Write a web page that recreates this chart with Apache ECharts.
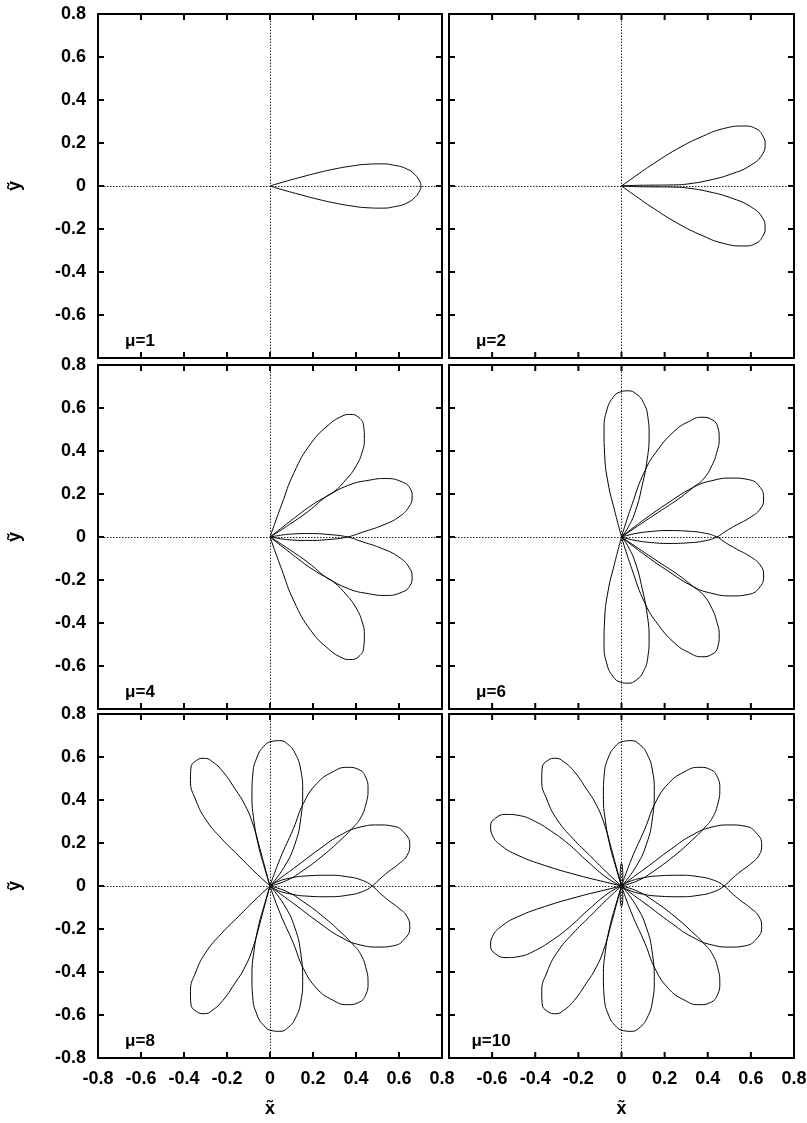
<!DOCTYPE html>
<html>
<head>
<meta charset="utf-8">
<script src="https://cdn.jsdelivr.net/npm/echarts@6/dist/echarts.min.js"></script>
<style>
  html, body { margin: 0; padding: 0; background: #fff; }
  #chart { width: 807px; height: 1123px; }
</style>
</head>
<body>
<div id="chart"></div>
<script>
// Axis ticks shared by every panel (x̃ and ỹ run over the same range)
const tickValues = [-0.8, -0.6, -0.4, -0.2, 0, 0.2, 0.4, 0.6, 0.8];

// Panel captions
const panelLabels = ['μ=1', 'μ=2', 'μ=4', 'μ=6', 'μ=8', 'μ=10'];

// ---- μ=1 : single loop along +x ----
const MU1_PETAL = [[0,0],[0.07,0.021],[0.14,0.040],[0.22,0.061],[0.30,0.079],[0.38,0.093],[0.45,0.101],[0.52,0.103],[0.58,0.096],[0.635,0.080],[0.675,0.052],[0.697,0.020],[0.702,0],[0.697,-0.020],[0.675,-0.052],[0.635,-0.080],[0.58,-0.096],[0.52,-0.103],[0.45,-0.101],[0.38,-0.093],[0.30,-0.079],[0.22,-0.061],[0.14,-0.040],[0.07,-0.021],[0,0]];

// ---- μ=2 : two loops ----
const MU2_UPPER = [[0,0],[0.066,0.047],[0.132,0.093],[0.256,0.171],[0.380,0.233],[0.473,0.267],[0.566,0.279],[0.628,0.264],[0.658,0.228],[0.666,0.195],[0.655,0.150],[0.600,0.097],[0.504,0.054],[0.411,0.028],[0.318,0.011],[0.24,0.005],[0.15,0.004],[0.07,0.003],[0,0]];
const MU2_LOWER = [[0,0],[0.066,-0.047],[0.132,-0.093],[0.256,-0.171],[0.380,-0.233],[0.473,-0.267],[0.566,-0.279],[0.628,-0.264],[0.658,-0.228],[0.666,-0.195],[0.655,-0.150],[0.600,-0.097],[0.504,-0.054],[0.411,-0.028],[0.318,-0.011],[0.24,-0.005],[0.15,-0.004],[0.07,-0.003],[0,0]];

// ---- μ=4 : four loops ----
const MU4_UP = [[0,0],[0.054,0.150],[0.112,0.300],[0.190,0.435],[0.276,0.524],[0.335,0.562],[0.370,0.570],[0.413,0.556],[0.436,0.512],[0.439,0.458],[0.429,0.396],[0.398,0.326],[0.351,0.264],[0.297,0.210],[0.258,0.186],[0.180,0.121],[0.102,0.066],[0.04,0.025],[0,0]];
const MU4_RIGHT_UP = [[0,0],[0.06,0.047],[0.118,0.092],[0.190,0.145],[0.258,0.186],[0.366,0.241],[0.460,0.264],[0.537,0.272],[0.615,0.256],[0.652,0.225],[0.661,0.186],[0.646,0.140],[0.599,0.093],[0.522,0.054],[0.429,0.022],[0.36,0],[0.28,-0.011],[0.18,-0.016],[0.09,-0.013],[0.03,-0.005],[0,0]];
const MU4_RIGHT_DOWN = [[0,0],[0.06,-0.047],[0.118,-0.092],[0.190,-0.145],[0.258,-0.186],[0.366,-0.241],[0.460,-0.264],[0.537,-0.272],[0.615,-0.256],[0.652,-0.225],[0.661,-0.186],[0.646,-0.140],[0.599,-0.093],[0.522,-0.054],[0.429,-0.022],[0.36,0],[0.28,0.011],[0.18,0.016],[0.09,0.013],[0.03,0.005],[0,0]];
const MU4_DOWN = [[0,0],[0.054,-0.150],[0.112,-0.300],[0.190,-0.435],[0.276,-0.524],[0.335,-0.562],[0.370,-0.570],[0.413,-0.556],[0.436,-0.512],[0.439,-0.458],[0.429,-0.396],[0.398,-0.326],[0.351,-0.264],[0.297,-0.210],[0.258,-0.186],[0.180,-0.121],[0.102,-0.066],[0.04,-0.025],[0,0]];

// ---- μ=6 : six loops ----
const MU6_VERT_UP = [[0,0],[-0.033,0.127],[-0.062,0.250],[-0.078,0.380],[-0.081,0.500],[-0.068,0.590],[-0.040,0.648],[-0.005,0.675],[0.030,0.680],[0.070,0.664],[0.102,0.625],[0.122,0.560],[0.128,0.470],[0.119,0.360],[0.096,0.240],[0.066,0.125],[0.031,0.045],[0,0]];
const MU6_UP_RIGHT = [[0,0],[0.047,0.146],[0.109,0.309],[0.171,0.409],[0.248,0.495],[0.310,0.536],[0.372,0.557],[0.419,0.546],[0.447,0.510],[0.453,0.456],[0.442,0.394],[0.419,0.332],[0.380,0.270],[0.333,0.231],[0.264,0.177],[0.171,0.115],[0.078,0.053],[0,0]];
const MU6_RIGHT_UP = [[0,0],[0.05,0.040],[0.109,0.084],[0.202,0.149],[0.333,0.231],[0.419,0.262],[0.512,0.274],[0.589,0.267],[0.643,0.231],[0.659,0.177],[0.643,0.130],[0.595,0.090],[0.535,0.057],[0.482,0.026],[0.442,0],[0.39,-0.017],[0.31,-0.027],[0.22,-0.030],[0.14,-0.026],[0.07,-0.017],[0.025,-0.007],[0,0]];
const MU6_RIGHT_DOWN = [[0,0],[0.05,-0.040],[0.109,-0.084],[0.202,-0.149],[0.333,-0.231],[0.419,-0.262],[0.512,-0.274],[0.589,-0.267],[0.643,-0.231],[0.659,-0.177],[0.643,-0.130],[0.595,-0.090],[0.535,-0.057],[0.482,-0.026],[0.442,0],[0.39,0.017],[0.31,0.027],[0.22,0.030],[0.14,0.026],[0.07,0.017],[0.025,0.007],[0,0]];
const MU6_DOWN_RIGHT = [[0,0],[0.047,-0.146],[0.109,-0.309],[0.171,-0.409],[0.248,-0.495],[0.310,-0.536],[0.372,-0.557],[0.419,-0.546],[0.447,-0.510],[0.453,-0.456],[0.442,-0.394],[0.419,-0.332],[0.380,-0.270],[0.333,-0.231],[0.264,-0.177],[0.171,-0.115],[0.078,-0.053],[0,0]];
const MU6_VERT_DOWN = [[0,0],[-0.033,-0.127],[-0.062,-0.250],[-0.078,-0.380],[-0.081,-0.500],[-0.068,-0.590],[-0.040,-0.648],[-0.005,-0.675],[0.030,-0.680],[0.070,-0.664],[0.102,-0.625],[0.122,-0.560],[0.128,-0.470],[0.119,-0.360],[0.096,-0.240],[0.066,-0.125],[0.031,-0.045],[0,0]];

// ---- μ=8 and μ=10 : loops common to both panels ----
const ROSE_VERT_UP = [[0,0],[-0.030,0.100],[-0.052,0.180],[-0.074,0.298],[-0.084,0.422],[-0.080,0.520],[-0.062,0.595],[-0.030,0.648],[0.010,0.673],[0.045,0.676],[0.082,0.660],[0.118,0.615],[0.144,0.535],[0.152,0.440],[0.144,0.320],[0.116,0.195],[0.064,0.085],[0,0]];
const ROSE_UP_RIGHT = [[0,0],[0.047,0.127],[0.109,0.267],[0.155,0.383],[0.217,0.476],[0.290,0.530],[0.360,0.552],[0.412,0.542],[0.445,0.506],[0.456,0.450],[0.446,0.380],[0.422,0.318],[0.388,0.274],[0.326,0.212],[0.248,0.143],[0.155,0.073],[0.078,0.026],[0,0]];
const ROSE_RIGHT_UP = [[0,0],[0.05,0.038],[0.109,0.081],[0.233,0.174],[0.326,0.236],[0.419,0.274],[0.505,0.284],[0.574,0.278],[0.626,0.246],[0.650,0.192],[0.638,0.143],[0.598,0.102],[0.550,0.066],[0.508,0.030],[0.476,0],[0.43,-0.026],[0.36,-0.043],[0.27,-0.050],[0.17,-0.047],[0.09,-0.036],[0.03,-0.018],[0,0]];
const ROSE_RIGHT_DOWN = [[0,0],[0.05,-0.038],[0.109,-0.081],[0.233,-0.174],[0.326,-0.236],[0.419,-0.274],[0.505,-0.284],[0.574,-0.278],[0.626,-0.246],[0.650,-0.192],[0.638,-0.143],[0.598,-0.102],[0.550,-0.066],[0.508,-0.030],[0.476,0],[0.43,0.026],[0.36,0.043],[0.27,0.050],[0.17,0.047],[0.09,0.036],[0.03,0.018],[0,0]];
const ROSE_DOWN_RIGHT = [[0,0],[0.047,-0.127],[0.109,-0.267],[0.155,-0.383],[0.217,-0.476],[0.290,-0.530],[0.360,-0.552],[0.412,-0.542],[0.445,-0.506],[0.456,-0.450],[0.446,-0.380],[0.422,-0.318],[0.388,-0.274],[0.326,-0.212],[0.248,-0.143],[0.155,-0.073],[0.078,-0.026],[0,0]];
const ROSE_VERT_DOWN = [[0,0],[-0.030,-0.100],[-0.052,-0.180],[-0.074,-0.298],[-0.084,-0.422],[-0.080,-0.520],[-0.062,-0.595],[-0.030,-0.648],[0.010,-0.673],[0.045,-0.676],[0.082,-0.660],[0.118,-0.615],[0.144,-0.535],[0.152,-0.440],[0.144,-0.320],[0.116,-0.195],[0.064,-0.085],[0,0]];
const ROSE_UP_LEFT = [[0,0],[-0.070,0.065],[-0.148,0.143],[-0.225,0.220],[-0.298,0.308],[-0.345,0.400],[-0.370,0.490],[-0.368,0.548],[-0.342,0.584],[-0.305,0.594],[-0.268,0.578],[-0.220,0.533],[-0.165,0.455],[-0.116,0.376],[-0.078,0.283],[-0.047,0.174],[-0.020,0.073],[0,0]];
const ROSE_DOWN_LEFT = [[0,0],[-0.070,-0.065],[-0.148,-0.143],[-0.225,-0.220],[-0.298,-0.308],[-0.345,-0.400],[-0.370,-0.490],[-0.368,-0.548],[-0.342,-0.584],[-0.305,-0.594],[-0.268,-0.578],[-0.220,-0.533],[-0.165,-0.455],[-0.116,-0.376],[-0.078,-0.283],[-0.047,-0.174],[-0.020,-0.073],[0,0]];

// ---- μ=10 only : loops toward −x and the short spindles along ỹ ----
const MU10_LEFT_UP = [[0,0],[-0.078,0.019],[-0.202,0.050],[-0.357,0.096],[-0.481,0.143],[-0.555,0.186],[-0.598,0.234],[-0.607,0.278],[-0.585,0.315],[-0.535,0.333],[-0.470,0.327],[-0.400,0.300],[-0.330,0.258],[-0.248,0.197],[-0.155,0.112],[-0.062,0.034],[0,0]];
const MU10_LEFT_DOWN = [[0,0],[-0.078,-0.019],[-0.202,-0.050],[-0.357,-0.096],[-0.481,-0.143],[-0.555,-0.186],[-0.598,-0.234],[-0.607,-0.278],[-0.585,-0.315],[-0.535,-0.333],[-0.470,-0.327],[-0.400,-0.300],[-0.330,-0.258],[-0.248,-0.197],[-0.155,-0.112],[-0.062,-0.034],[0,0]];
const MU10_SPINDLE_UP = [[0,0],[0.006,0.040],[0.005,0.080],[0,0.105],[-0.005,0.080],[-0.006,0.040],[0,0]];
const MU10_SPINDLE_DOWN = [[0,0],[0.006,-0.040],[0.005,-0.080],[0,-0.095],[-0.005,-0.080],[-0.006,-0.040],[0,0]];

// Loops drawn in each panel, in reading order
const panelPetals = [
  [MU1_PETAL],
  [MU2_UPPER, MU2_LOWER],
  [MU4_UP, MU4_RIGHT_UP, MU4_RIGHT_DOWN, MU4_DOWN],
  [MU6_VERT_UP, MU6_UP_RIGHT, MU6_RIGHT_UP, MU6_RIGHT_DOWN, MU6_DOWN_RIGHT, MU6_VERT_DOWN],
  [ROSE_VERT_UP, ROSE_UP_RIGHT, ROSE_RIGHT_UP, ROSE_RIGHT_DOWN, ROSE_DOWN_RIGHT, ROSE_VERT_DOWN, ROSE_UP_LEFT, ROSE_DOWN_LEFT],
  [ROSE_VERT_UP, ROSE_UP_RIGHT, ROSE_RIGHT_UP, ROSE_RIGHT_DOWN, ROSE_DOWN_RIGHT, ROSE_VERT_DOWN, ROSE_UP_LEFT, ROSE_DOWN_LEFT,
   MU10_LEFT_UP, MU10_LEFT_DOWN, MU10_SPINDLE_UP, MU10_SPINDLE_DOWN]
];

// ---- layout ----
const FONT = 'Liberation Sans';
const COLS = [{ left: 98, width: 344 }, { left: 449, width: 345 }];
const ROWS = [{ top: 14, height: 344 }, { top: 365, height: 344 }, { top: 714, height: 344 }];
const AXIS_MIN = tickValues[0];
const AXIS_MAX = tickValues[tickValues.length - 1];
const STEP = 0.2;
const TICK_PX = 6;     // tick length in pixels
const TICK_W = 2;      // tick stroke width

function fmt(v) {
  if (Math.abs(v) < 1e-9) return '0';
  return v.toFixed(1);
}

const textStyle = { color: '#000', fontFamily: FONT, fontSize: 18, fontWeight: 'bold' };

// Each panel frame side is an axis line; labels only on the outer sides
function makeAxis(gridIndex, position, labelShow, hideMin, name, nameGap) {
  const ax = {
    gridIndex: gridIndex,
    type: 'value',
    position: position,
    min: AXIS_MIN,
    max: AXIS_MAX,
    interval: STEP,
    axisLine: { show: true, onZero: false, lineStyle: { color: '#000', width: 2 } },
    axisTick: { show: false },
    splitLine: { show: false },
    axisLabel: Object.assign({
      show: labelShow,
      margin: 12,
      showMinLabel: !hideMin,
      formatter: fmt
    }, textStyle)
  };
  if (name) {
    ax.name = name;
    ax.nameLocation = 'middle';
    ax.nameGap = nameGap;
    ax.nameTextStyle = Object.assign({}, textStyle);
  }
  return ax;
}

const grids = [], xAxes = [], yAxes = [], series = [], graphics = [];

panelPetals.forEach(function (petals, i) {
  const r = Math.floor(i / 2), c = i % 2;
  const isBottom = r === 2, isLeft = c === 0;
  grids.push({
    left: COLS[c].left, top: ROWS[r].top,
    width: COLS[c].width, height: ROWS[r].height,
    show: false,
    containLabel: false,
    outerBoundsMode: 'none'
  });

  // bottom + top x axes, left + right y axes
  xAxes.push(makeAxis(i, 'bottom', isBottom, !isLeft, isBottom ? 'x\u0303' : null, 42));
  xAxes.push(makeAxis(i, 'top', false, false, null, 0));
  yAxes.push(makeAxis(i, 'left', isLeft, !isBottom, isLeft ? '\u1EF9' : null, 74));
  yAxes.push(makeAxis(i, 'right', false, false, null, 0));

  const xi = 2 * i, yi = 2 * i;

  // tick length expressed in axis units for this panel
  const dx = (AXIS_MAX - AXIS_MIN) * TICK_PX / COLS[c].width;
  const dy = (AXIS_MAX - AXIS_MIN) * TICK_PX / ROWS[r].height;
  const inner = tickValues.slice(1, -1);

  // inward tick marks on all four frame sides, each a short segment
  const tickSegments = [];
  inner.forEach(function (v) {
    tickSegments.push([[v, AXIS_MIN], [v, AXIS_MIN + dy]]);
    tickSegments.push([[v, AXIS_MAX], [v, AXIS_MAX - dy]]);
    tickSegments.push([[AXIS_MIN, v], [AXIS_MIN + dx, v]]);
    tickSegments.push([[AXIS_MAX, v], [AXIS_MAX - dx, v]]);
  });
  tickSegments.forEach(function (seg) {
    series.push({
      type: 'line',
      xAxisIndex: xi, yAxisIndex: yi,
      data: seg,
      showSymbol: false,
      symbol: 'none',
      silent: true,
      clip: false,
      z: 4,
      lineStyle: { color: '#000', width: TICK_W, cap: 'butt' }
    });
  });

  // dotted zero lines
  series.push({
    type: 'line',
    xAxisIndex: xi, yAxisIndex: yi,
    data: [],
    silent: true,
    markLine: {
      silent: true,
      symbol: 'none',
      animation: false,
      label: { show: false },
      lineStyle: { color: '#222', width: 1, type: [1.5, 1.5] },
      data: [{ xAxis: 0 }, { yAxis: 0 }]
    }
  });

  petals.forEach(function (pts) {
    series.push({
      type: 'line',
      xAxisIndex: xi, yAxisIndex: yi,
      data: pts,
      smooth: 0.5,
      showSymbol: false,
      symbol: 'none',
      silent: true,
      z: 3,
      lineStyle: { color: '#000', width: 1 }
    });
  });

  graphics.push({
    type: 'text',
    x: COLS[c].left + 42,
    y: ROWS[r].top + ROWS[r].height - 17,
    style: {
      text: panelLabels[i],
      textAlign: 'center',
      textVerticalAlign: 'middle',
      fill: '#000',
      font: 'bold 17px "' + FONT + '"'
    }
  });
});

const chart = echarts.init(document.getElementById('chart'), null, { renderer: 'canvas' });
chart.setOption({
  animation: false,
  backgroundColor: '#fff',
  grid: grids,
  xAxis: xAxes,
  yAxis: yAxes,
  series: series,
  graphic: graphics
});
</script>
</body>
</html>
